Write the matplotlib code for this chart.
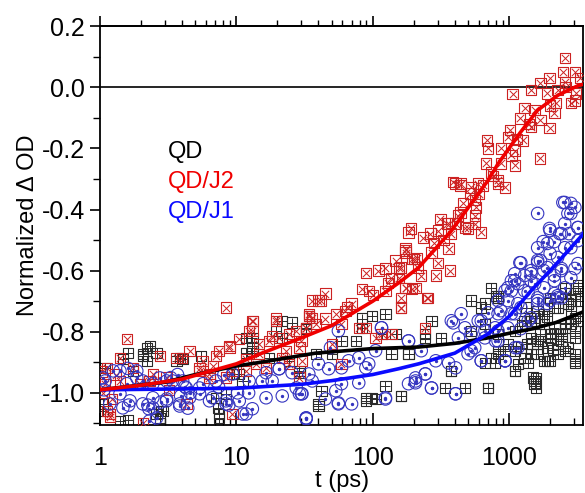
import numpy as np
import matplotlib
matplotlib.use("Agg")
import matplotlib.pyplot as plt
from matplotlib.ticker import FixedLocator, LogLocator, NullFormatter, FuncFormatter

plt.rcParams["font.family"] = ["Liberation Sans", "DejaVu Sans"]
plt.rcParams["axes.unicode_minus"] = False

# --- QD/J2 (red, boxed x) ---
t_j2 = [1.57, 8.4, 13.3, 2.74, 4.54, 8.9, 10.5, 12.4, 7.5, 5.65, 4.0, 1.4, 1.12, 1.74,
        1.12, 1.18, 2.06, 9.36, 4.3, 2.44, 3.08, 6.35, 8.4, 11.8, 5.37, 6.7,
        1.06, 1.09, 1.3, 2.3, 3.2, 1.03, 1.22,
        183, 174, 147, 193, 124, 155, 89, 45, 41.5, 34, 83, 93.5, 124, 174, 193, 162,
        70, 63, 53.6, 45, 38.3, 32.5, 27.5, 24.4, 20.6, 17.4, 14.7, 13.1, 19.6, 137,
        79, 14, 16.5, 21.7, 59, 105, 50,
        2564, 2480, 3040, 1980, 1700, 2564, 1060, 1450, 1910, 2270, 3040, 2840, 2210,
        2150, 1300, 1540, 1200, 1700, 1980, 1450, 1010, 690, 700, 980, 1260, 870, 1100,
        1040, 1680, 680, 870, 1110, 740, 830, 935, 594, 390, 440, 527, 645, 520, 460,
        573, 440, 563, 314, 360, 190, 500, 560,
        405, 445, 830, 560, 405, 350, 475, 625, 235, 265, 300, 377, 174, 360, 200, 270,
        300, 370, 216, 227, 290, 162, 174, 206, 250, 162, 162, 155,
        40, 34, 110, 137, 174, 255, 243, 116, 89, 59, 30, 29,
        36, 34, 19.6, 13.1, 18.3, 8.9, 7.1, 11.8, 14.7, 23.2, 29, 30.3, 24.4, 9.36, 5.37,
        6.35, 3.64, 1.96, 1.4, 1.18, 36, 32.5,
        130, 210, 280, 330, 420, 600, 760, 1150, 1400, 2600, 3300, 3100, 2000, 65, 100]
y_j2 = [-0.823, -0.721, -0.764, -0.879, -0.862, -0.846, -0.823, -0.797, -0.862, -0.895,
        -0.885, -0.885, -0.918, -0.918, -1.06, -1.08, -1.098, -1.069, -1.036, -0.938,
        -0.95, -0.938, -0.95, -0.928, -0.928, -0.912,
        -1.0, -0.97, -0.94, -0.96, -0.99, -0.93, -1.02,
        -0.475, -0.534, -0.567, -0.561, -0.593, -0.593, -0.607, -0.675, -0.698, -0.748,
        -0.659, -0.666, -0.666, -0.656, -0.659, -0.721, -0.708, -0.731, -0.741, -0.757,
        -0.774, -0.787, -0.797, -0.807, -0.82, -0.83, -0.839, -0.764, -0.757, -0.807,
        -0.787, -0.905, -0.918, -0.885, -0.905, -0.82, -0.839,
        0.095, 0.049, 0.049, 0.03, 0.013, 0.016, -0.023, -0.01, -0.02, -0.01, -0.043,
        -0.052, -0.052, -0.085, -0.069, -0.075, -0.102, -0.108, -0.134, -0.131, -0.141,
        -0.174, -0.2, -0.164, -0.174, -0.2, -0.207, -0.223, -0.233, -0.249, -0.249,
        -0.256, -0.279, -0.305, -0.328, -0.315, -0.311, -0.321, -0.328, -0.321, -0.348,
        -0.38, -0.393, -0.41, -0.42, -0.43, -0.446, -0.462, -0.462, -0.446,
        -0.315, -0.315, -0.315, -0.37, -0.446, -0.446, -0.459, -0.475, -0.492, -0.479,
        -0.469, -0.479, -0.528, -0.528, -0.561, -0.541, -0.574, -0.6, -0.59, -0.616,
        -0.616, -0.59, -0.656, -0.656, -0.689, -0.689, -0.721, -0.623,
        -0.698, -0.741, -0.6, -0.623, -0.541, -0.689, -0.787, -0.807, -0.787, -0.774,
        -0.83, -0.95,
        -0.698, -0.748, -0.764, -0.797, -0.813, -0.852, -0.879, -0.889, -0.872, -0.862,
        -0.852, -0.895, -0.905, -0.928, -0.918, -0.951, -0.885, -0.97, -0.961, -1.069,
        -0.754, -0.787,
        -0.64, -0.56, -0.51, -0.5, -0.42, -0.35, -0.29, -0.17, -0.12, 0.0, 0.03, -0.02,
        -0.06, -0.72, -0.68]

# --- QD (black, boxed plus) ---
t_qd = [2.32, 2.06, 2.2, 1.47, 1.09, 4.04, 11.8, 13.1, 13.1, 11.1, 7.1, 7.5, 2.9, 2.74,
        1.4, 1.05, 8.4, 10.5, 3.64, 1.74, 2.2, 1.6, 2.6, 7.3, 5.5, 2.8, 1.6, 1.05,
        25.6, 32.5, 19.6, 21.7, 83, 98.5, 124, 83, 75, 116, 59, 137, 183, 29, 38.3, 50,
        124, 162, 105, 89, 40, 42, 24.4, 17.4,
        32.5, 147, 183, 243, 318, 377, 340, 475, 700, 1500, 1540, 98, 89, 40,
        740, 527, 625, 830, 665, 527, 830, 1100, 1100, 1160, 1620, 2000, 2560, 3040,
        2560, 3040, 1910, 1450, 2270, 2000, 2840, 1450, 935, 740, 1800, 2420, 1330,
        1620, 3040,
        805, 2600, 3200, 2840, 270, 243, 1570, 1100, 162, 377, 830, 1800, 2270, 2270,
        2840, 1700, 1250, 2100, 3300, 2700, 1900, 1350,
        3200, 3040, 2560, 2700, 2150, 1800, 1540, 1300, 3200, 2560, 2150, 1700, 2000,
        2420, 3040, 1450, 1620, 1910, 2270, 2700, 1220, 980, 830, 1300, 1620, 2000, 3040,
        3040, 665, 790, 1100, 1380, 1540, 1570, 700, 830, 665,
        21.7, 11.8, 13.1, 2.06, 3.84, 9.36, 2.6, 7.5, 29]
y_qd = [-0.846, -0.872, -0.895, -0.889, -0.918, -0.889, -0.869, -0.82, -0.852, -0.961,
        -1.016, -1.082, -1.059, -1.082, -1.092, -1.036, -1.003, -0.938, -0.895, -0.928,
        -0.853, -0.87, -0.87, -1.05, -0.88, -1.06, -1.09, -1.06,
        -0.77, -0.79, -0.797, -0.82, -0.757, -0.748, -0.741, -0.787, -0.83, -0.807,
        -0.83, -0.872, -0.872, -0.934, -0.872, -0.872, -0.977, -1.01, -1.02, -1.026,
        -1.043, -0.993, -0.895, -0.885,
        -0.787, -0.807, -0.872, -0.82, -0.82, -0.928, -0.984, -0.984, -0.984, -0.95,
        -0.97, -1.016, -1.016, -1.036,
        -0.656, -0.698, -0.721, -0.689, -0.774, -0.797, -0.807, -0.797, -0.862, -0.905,
        -0.83, -0.807, -0.787, -0.754, -0.862, -0.895, -0.895, -0.872, -0.721, -0.689,
        -0.698, -0.764, -0.862, -0.885, -0.774, -0.83, -0.721, -0.731, -0.82,
        -0.682, -0.656, -0.649, -0.731, -0.764, -0.807, -0.984, -0.928, -1.01, -0.928,
        -0.872, -0.895, -0.872, -0.807, -0.774, -0.83, -0.78, -0.86, -0.7, -0.71,
        -0.75, -0.84,
        -0.656, -0.675, -0.675, -0.708, -0.721, -0.741, -0.754, -0.764, -0.764, -0.774,
        -0.787, -0.807, -0.82, -0.807, -0.797, -0.82, -0.839, -0.852, -0.839, -0.852,
        -0.852, -0.839, -0.862, -0.885, -0.872, -0.895, -0.872, -0.902, -0.902, -0.902,
        -0.928, -0.902, -0.961, -0.951, -0.984, -0.682, -0.708,
        -0.764, -0.82, -0.862, -0.879, -0.885, -0.938, -1.069, -1.069, -0.928]

# --- QD/J1 (blue, open circles) ---
t_j1 = [1.09, 1.4, 1.86, 2.06, 2.44, 2.74, 3.4, 2.06, 2.44, 1.66, 1.18, 3.08, 3.84, 2.6,
        4.54, 5.37, 6.35, 8.4, 11.1, 13.1, 12.4, 9.36, 7.1, 4.04, 1.57, 1.4,
        1.25, 1.6, 2.28, 2.3, 2.8, 3.3, 3.7, 2.24, 3.08, 3.9, 4.2, 4.4, 4.6, 7.4, 8.1,
        10.2, 12.3, 8.8, 5.7, 1.62, 1.07,
        20.6, 16.5, 15.5, 21.7, 30.3, 32.5, 45, 56, 40, 47.5, 66.5, 79, 93.5, 56, 49,
        116, 183, 206, 124, 53.6, 79, 36, 25.6,
        30, 32.5, 56, 70, 124, 59, 116, 59, 105, 89, 183, 270, 405, 243, 206, 377,
        445, 527, 625, 830, 1040, 935, 1160, 1100, 1450, 1700, 2000, 2420, 1620, 1450,
        2000, 2420, 1040, 830,
        1620, 2560, 2840, 3200, 2840, 2000, 2420, 2840, 1910, 3200, 1620, 1220, 1800,
        2150, 2840, 1450, 1100, 980, 1300, 1620, 2270, 1910, 1220, 830, 594, 665, 475,
        390, 527, 795, 560, 425, 183, 227, 290, 360, 500, 405, 243, 206, 270, 405, 935,
        1620, 2270, 2560, 3200,
        2480, 3040, 2700, 1980, 2350, 2750, 3200, 2150, 1780, 2560, 1200, 1620, 1910,
        2420, 3040, 1450, 1300, 2150, 1040, 1160, 1540, 1800, 2560, 935, 1380, 2150, 980,
        1160, 1620, 2270, 700, 870, 1100, 1380, 625, 790, 980, 1220, 665, 830, 1110,
        625, 935,
        1.86, 3.08, 4.3, 5.37, 6.7, 8.4, 10.5, 11.8, 16.5, 20.6, 29, 34, 32.5, 27.5,
        18.3, 2.44, 1.47, 3.84, 1.05]
y_j1 = [-0.961, -0.928, -0.928, -0.961, -0.97, -0.951, -0.961, -1.036, -1.049, -1.026,
        -1.036, -1.026, -1.043, -1.082, -1.016, -0.984, -1.026, -1.026, -1.069, -1.052,
        -0.961, -0.938, -0.961, -0.961, -0.97, -1.003,
        -0.928, -0.92, -1.052, -1.092, -1.03, -0.95, -0.94, -1.04, -1.02, -1.01, -0.98,
        -1.05, -1.0, -0.98, -0.94, -1.0, -1.0, -1.04, -0.97, -1.04, -0.99,
        -0.921, -0.934, -0.961, -1.01, -1.003, -1.085, -1.02, -1.033, -0.905, -0.921,
        -0.895, -0.885, -0.905, -0.797, -0.852, -0.787, -0.83, -0.967, -1.02, -0.993,
        -0.967, -0.961, -0.934,
        -1.003, -1.082, -1.036, -1.036, -1.016, -0.97, -0.787, -0.918, -0.862, -0.918,
        -0.97, -0.984, -1.003, -0.938, -0.951, -0.764, -0.741, -0.862, -0.895, -0.797,
        -0.741, -0.895, -0.852, -0.61, -0.61, -0.567, -0.544, -0.6, -0.698, -0.754,
        -0.698, -0.689, -0.666, -0.698,
        -0.413, -0.377, -0.38, -0.459, -0.413, -0.469, -0.479, -0.525, -0.511, -0.577,
        -0.567, -0.574, -0.6, -0.633, -0.623, -0.633, -0.633, -0.656, -0.666, -0.689,
        -0.689, -0.708, -0.721, -0.741, -0.764, -0.797, -0.787, -0.771, -0.807, -0.83,
        -0.852, -0.82, -0.83, -0.862, -0.895, -0.902, -0.872, -0.918, -0.938, -0.961,
        -0.984, -1.003, -0.895, -0.525, -0.557, -0.446, -0.502,
        -0.377, -0.393, -0.413, -0.462, -0.479, -0.479, -0.459, -0.505, -0.505, -0.525,
        -0.574, -0.574, -0.59, -0.593, -0.593, -0.6, -0.616, -0.616, -0.633, -0.643,
        -0.643, -0.656, -0.656, -0.666, -0.672, -0.675, -0.698, -0.708, -0.708, -0.682,
        -0.738, -0.731, -0.741, -0.764, -0.764, -0.787, -0.787, -0.79, -0.82, -0.83,
        -0.852, -0.895, -0.895,
        -0.951, -0.961, -0.984, -1.003, -1.016, -1.036, -1.026, -1.069, -1.016, -0.921,
        -1.003, -0.938, -1.082, -0.984, -0.961, -1.016, -1.049, -1.036, -0.951]

# fitted curves
fit_t_j2 = [1, 2, 4, 10, 15, 30, 50, 100, 155, 217, 377, 700, 831, 1200, 1620, 2300, 3200, 3500]
fit_y_j2 = [-0.99, -0.975, -0.955, -0.905, -0.872, -0.82, -0.78, -0.70, -0.64, -0.59,
            -0.47, -0.305, -0.25, -0.15, -0.075, -0.025, 0.005, 0.01]
fit_t_qd = [1, 3, 5, 10, 15, 38, 100, 217, 400, 700, 1000, 1500, 2200, 3500]
fit_y_qd = [-0.99, -0.965, -0.94, -0.912, -0.9, -0.87, -0.855, -0.85, -0.838, -0.82,
            -0.805, -0.79, -0.77, -0.735]
fit_t_j1 = [1, 10, 30, 50, 100, 155, 217, 400, 700, 1000, 1450, 2200, 3500]
fit_y_j1 = [-0.99, -0.985, -0.972, -0.96, -0.94, -0.921, -0.905, -0.87, -0.807, -0.75,
            -0.666, -0.58, -0.48]

RED = "#f00000"
BLUE = "#0a0aff"
RED_PT = "#cc2222"
BLACK_PT = "#2a2a2a"
BLUE_PT = "#3535c0"

fig = plt.figure(figsize=(5.85, 4.93), dpi=100)
ax = fig.add_axes([0.171, 0.138, 0.826, 0.809])

ax.axhline(0, color="black", lw=1.2, zorder=1)

ax.scatter(t_qd, y_qd, marker="s", s=55, facecolors="none", edgecolors=BLACK_PT, lw=0.8, zorder=2)
ax.scatter(t_qd, y_qd, marker="+", s=55, color=BLACK_PT, lw=0.7, zorder=2)
ax.scatter(t_j2, y_j2, marker="s", s=55, facecolors="none", edgecolors=RED_PT, lw=0.8, zorder=3)
ax.scatter(t_j2, y_j2, marker="x", s=28, color=RED_PT, lw=0.7, zorder=3)
ax.scatter(t_j1, y_j1, marker="o", s=80, facecolors="none", edgecolors=BLUE_PT, lw=0.8, zorder=4)
ax.scatter(t_j1, y_j1, marker="o", s=2, color=BLUE_PT, zorder=4)

ax.plot(fit_t_qd, fit_y_qd, color="black", lw=2.6, zorder=5)
ax.plot(fit_t_j1, fit_y_j1, color=BLUE, lw=2.6, zorder=6)
ax.plot(fit_t_j2, fit_y_j2, color=RED, lw=2.6, zorder=7)

ax.set_xscale("log")
ax.set_xlim(1, 3500)
ax.set_ylim(-1.105, 0.2)

ax.xaxis.set_major_locator(FixedLocator([1, 10, 100, 1000]))
ax.xaxis.set_major_formatter(FuncFormatter(lambda v, p: f"{v:g}"))
ax.xaxis.set_minor_locator(LogLocator(base=10, subs=np.arange(2, 10)))
ax.xaxis.set_minor_formatter(NullFormatter())
ax.set_yticks([-1.0, -0.8, -0.6, -0.4, -0.2, 0.0, 0.2])
ax.set_yticks(np.arange(-1.1, 0.2, 0.2), minor=True)
ax.yaxis.set_major_formatter(FuncFormatter(lambda v, p: f"{v:.1f}"))

ax.tick_params(axis="x", which="major", direction="in", length=9, width=1.2, labelsize=18, pad=15)
ax.tick_params(axis="x", which="minor", direction="in", length=5, width=1.0)
ax.tick_params(axis="y", which="major", direction="out", length=7, width=1.2, labelsize=18, pad=4)
ax.tick_params(axis="y", which="minor", direction="out", length=5, width=1.0)

top = ax.secondary_xaxis("top")
top.xaxis.set_major_locator(FixedLocator([1, 10, 100, 1000]))
top.xaxis.set_minor_locator(LogLocator(base=10, subs=np.arange(2, 10)))
top.xaxis.set_major_formatter(NullFormatter())
top.xaxis.set_minor_formatter(NullFormatter())
top.tick_params(which="major", direction="out", length=7, width=1.2)
top.tick_params(which="minor", direction="out", length=4, width=1.0)
top.spines["top"].set_linewidth(1.3)

for s in ax.spines.values():
    s.set_linewidth(1.3)

ax.set_xlabel("t (ps)", fontsize=17, labelpad=0)
ax.set_ylabel("Normalized \u0394 OD", fontsize=17, labelpad=2)

ax.text(0.14, 0.684, "QD", color="black", fontsize=17, transform=ax.transAxes, va="center")
ax.text(0.14, 0.609, "QD/J2", color=RED, fontsize=17, transform=ax.transAxes, va="center")
ax.text(0.14, 0.534, "QD/J1", color=BLUE, fontsize=17, transform=ax.transAxes, va="center")

fig.savefig("out.png", dpi=100)
